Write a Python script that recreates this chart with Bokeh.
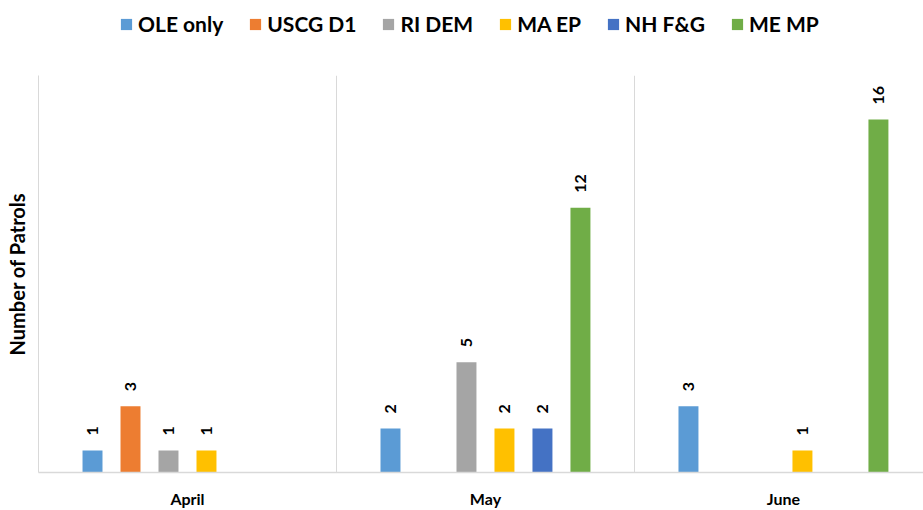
import math
from bokeh.plotting import figure
from bokeh.layouts import column
from bokeh.models import ColumnDataSource, Range1d, FixedTicker, Legend, LegendItem
from bokeh.core.properties import value
from bokeh.embed import file_html
from bokeh.resources import INLINE

months = ["April", "May", "June"]
series = ["OLE only", "USCG D1", "RI DEM", "MA EP", "NH F&G", "ME MP"]
colors = ["#5B9BD5", "#ED7D31", "#A5A5A5", "#FFC000", "#4472C4", "#70AD47"]
ole_only = [1, 2, 3]
uscg_d1 = [3, 0, 0]
ri_dem = [1, 5, 0]
ma_ep = [1, 2, 1]
nh_fg = [0, 2, 0]
me_mp = [0, 12, 16]
values = [ole_only, uscg_d1, ri_dem, ma_ep, nh_fg, me_mp]

FONT = "Lato"
step = 0.1275
bar_w = 0.067

# ---- legend strip (top) ----
leg = figure(width=923, height=75, output_backend="svg", toolbar_location=None,
             x_range=Range1d(100, 101), y_range=Range1d(100, 101),
             x_axis_location=None, y_axis_location=None,
             min_border_left=0, min_border_right=0, min_border_top=0, min_border_bottom=0)
leg.outline_line_color = None
leg.grid.visible = False
leg.background_fill_color = "white"
leg.border_fill_color = "white"

# ---- main chart ----
p = figure(width=923, height=435, output_backend="svg", toolbar_location=None,
           x_range=Range1d(-0.5, 2.47), y_range=Range1d(0, 18),
           min_border_left=38, min_border_right=0, min_border_top=0, min_border_bottom=36)
p.outline_line_color = None
p.background_fill_color = "white"
p.border_fill_color = "white"

items = []
for si, (name, col, vals) in enumerate(zip(series, colors, values)):
    xs, ys, lbl = [], [], []
    for mi, v in enumerate(vals):
        if v > 0:
            xs.append(mi + (si - 2.5) * step)
            ys.append(v)
            lbl.append(str(v))
    src = ColumnDataSource(dict(x=xs, top=ys, label=lbl))
    p.vbar(x="x", top="top", bottom=0, width=bar_w, source=src,
           fill_color=col, line_color=None)
    p.text(x="x", y="top", text="label", source=src, angle=math.pi / 2,
           text_align="left", text_baseline="middle", y_offset=-15,
           text_font=value(FONT), text_font_style="bold", text_font_size="16px",
           text_color="black")
    # hidden twin renderer, only used to draw the legend swatch
    lr = leg.vbar(x="x", top="top", bottom=0, width=bar_w, source=src,
                  fill_color=col, line_color=None, visible=False)
    items.append(LegendItem(label=name, renderers=[lr]))

legend = Legend(items=items, orientation="horizontal", location=(81, 39),
                glyph_width=14, glyph_height=14, label_standoff=5, spacing=25,
                padding=0, margin=0, border_line_color=None, background_fill_alpha=0,
                label_text_font=FONT, label_text_font_style="bold",
                label_text_font_size="21px", label_text_color="black",
                label_height=24)
leg.add_layout(legend, "center")

p.xaxis.ticker = FixedTicker(ticks=[0, 1, 2])
p.xaxis.major_label_overrides = {0: months[0], 1: months[1], 2: months[2]}
p.xaxis.major_label_text_font = FONT
p.xaxis.major_label_text_font_style = "bold"
p.xaxis.major_label_text_font_size = "16px"
p.xaxis.major_label_text_color = "black"
p.xaxis.major_label_standoff = 16
p.xaxis.major_tick_line_color = None
p.xaxis.major_tick_out = 0
p.xaxis.major_tick_in = 0
p.xaxis.minor_tick_line_color = None
p.xaxis.axis_line_color = "#d9d9d9"
p.xaxis.axis_line_width = 1.5

p.yaxis.ticker = FixedTicker(ticks=[])
p.yaxis.major_tick_line_color = None
p.yaxis.minor_tick_line_color = None
p.yaxis.major_label_text_font_size = "0px"
p.yaxis.axis_line_color = "#d9d9d9"
p.yaxis.axis_label = "Number of Patrols"
p.yaxis.axis_label_text_font = FONT
p.yaxis.axis_label_text_font_style = "bold"
p.yaxis.axis_label_text_font_size = "20px"
p.yaxis.axis_label_text_color = "black"
p.yaxis.axis_label_standoff = 10

p.ygrid.grid_line_color = None
p.xgrid.ticker = FixedTicker(ticks=[0.5, 1.5])
p.xgrid.grid_line_color = "#d9d9d9"
p.xgrid.grid_line_width = 1

layout = column(leg, p, spacing=0)
open("out.html", "w").write(file_html(layout, INLINE))
